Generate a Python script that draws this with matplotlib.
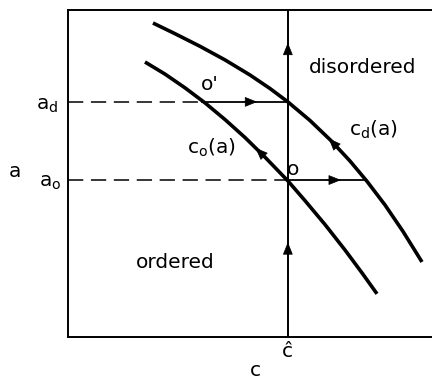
import matplotlib.pyplot as plt
import numpy as np

# boundary of the ordered phase, c_o(a)
co_c = [0.2115, 0.2665, 0.3214, 0.3764, 0.4313, 0.4863, 0.5412, 0.6044,
        0.6511, 0.7060, 0.7610, 0.8077, 0.8489]
co_a = [0.841, 0.804, 0.762, 0.716, 0.665, 0.610, 0.550, 0.477,
        0.417, 0.344, 0.266, 0.196, 0.132]

# boundary of the disordered phase, c_d(a)
cd_c = [0.2335, 0.2940, 0.3626, 0.4313, 0.5000, 0.5549, 0.6044,
        0.6648, 0.7225, 0.7747, 0.8214, 0.8709, 0.9203, 0.9725]
cd_a = [0.9602, 0.9275, 0.8890, 0.8474, 0.8012, 0.7599, 0.7187,
        0.6621, 0.6006, 0.5382, 0.4761, 0.4037, 0.3229, 0.2294]

c_hat = 0.604
a_d = 0.719
a_o = 0.480
co_at_ad = 0.368   # c_o(a_d)
cd_at_ao = 0.818   # c_d(a_o)

fig = plt.figure(figsize=(4.32, 3.79), dpi=100)
ax = fig.add_axes([68 / 432, 42 / 379, 364 / 432, 327 / 379])
ax.set_xlim(0, 1)
ax.set_ylim(0, 1)
ax.set_xticks([])
ax.set_yticks([])
ax.spines['right'].set_visible(False)
for s in ['left', 'top', 'bottom']:
    ax.spines[s].set_linewidth(1.4)


def head(tip, tail):
    ax.annotate('', xy=tip, xytext=tail,
                arrowprops=dict(arrowstyle='-|>,head_length=0.8,head_width=0.32',
                                color='k', lw=0.5, shrinkA=0, shrinkB=0,
                                mutation_scale=10))


# the two phase boundaries
ax.plot(co_c, co_a, color='k', lw=2.6, solid_capstyle='butt', solid_joinstyle='round')
ax.plot(cd_c, cd_a, color='k', lw=2.6, solid_capstyle='butt', solid_joinstyle='round')

# dashed guides at a_d and a_o
ax.plot([0, co_at_ad], [a_d, a_d], color='k', lw=1.1, ls=(0, (10, 5)))
ax.plot([0, c_hat], [a_o, a_o], color='k', lw=1.1, ls=(0, (10, 5)))

# flow paths
ax.plot([co_at_ad, c_hat], [a_d, a_d], color='k', lw=1.3)
ax.plot([c_hat, cd_at_ao], [a_o, a_o], color='k', lw=1.3)
ax.plot([c_hat, c_hat], [0, 1], color='k', lw=1.4)

head((0.52, a_d), (0.48, a_d))
head((0.75, a_o), (0.71, a_o))
head((c_hat, 0.29), (c_hat, 0.25))
head((c_hat, 0.90), (c_hat, 0.86))

# arrows along the boundaries, pointing up the curves
for cc, aa, c0 in [(co_c, co_a, 0.515), (cd_c, cd_a, 0.716)]:
    tip = (c0, np.interp(c0, cc, aa))
    tail = (c0 + 0.03, np.interp(c0 + 0.03, cc, aa))
    head(tip, tail)

fs = 14.5
ax.text(0.81, 0.823, 'disordered', fontsize=fs, ha='center', va='center')
ax.text(0.294, 0.229, 'ordered', fontsize=fs, ha='center', va='center')
ax.text(0.393, 0.578, r'$\mathregular{c_o(a)}$', fontsize=fs, ha='center', va='center')
ax.text(0.840, 0.633, r'$\mathregular{c_d(a)}$', fontsize=fs, ha='center', va='center')
ax.text(0.390, 0.771, "o'", fontsize=fs, ha='center', va='center')
ax.text(0.618, 0.511, 'o', fontsize=fs, ha='center', va='center')

ax.text(-0.058, 0.709, r'$\mathregular{a_d}$', fontsize=fs, ha='center', va='center', clip_on=False)
ax.text(-0.049, 0.471, r'$\mathregular{a_o}$', fontsize=fs, ha='center', va='center', clip_on=False)
ax.text(-0.146, 0.505, 'a', fontsize=fs, ha='center', va='center', clip_on=False)
ax.text(c_hat, -0.045, 'ĉ', fontsize=fs, ha='center', va='center', clip_on=False)
ax.text(0.516, -0.119, 'c', fontsize=fs, ha='center', va='baseline', clip_on=False)

fig.savefig('out.png', dpi=100)
